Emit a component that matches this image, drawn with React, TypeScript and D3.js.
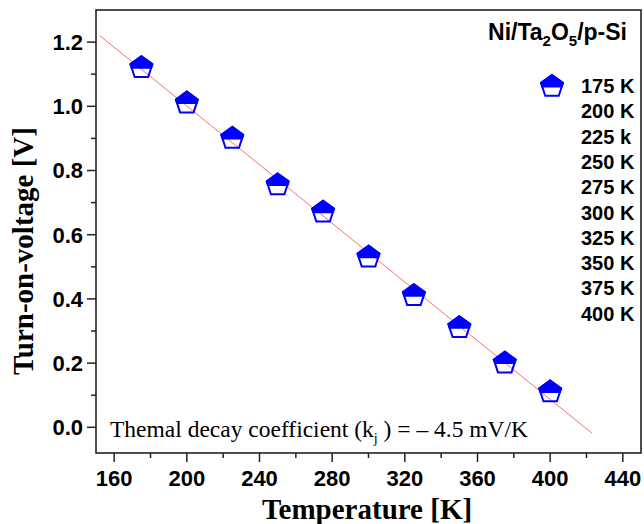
import React from "react";
import * as d3 from "d3";

// measured turn-on voltage vs temperature
const temperatures = [175, 200, 225, 250, 275, 300, 325, 350, 375, 400];
const turnOnVoltages = [1.12, 1.01, 0.9, 0.755, 0.67, 0.53, 0.41, 0.31, 0.2, 0.11];
const legendLabels = ["175 K", "200 K", "225 k", "250 K", "275 K", "300 K", "325 K", "350 K", "375 K", "400 K"];

// linear fit (V = a + b*T)
const fitRange = [152, 423];
const fitIntercept = 1.915;
const fitSlope = -0.00457;

const xTickValues = [160, 200, 240, 280, 320, 360, 400, 440];
const xMinorValues = [180, 220, 260, 300, 340, 380, 420];
const yTickValues = [0, 0.2, 0.4, 0.6, 0.8, 1.0, 1.2];
const yMinorValues = [0.1, 0.3, 0.5, 0.7, 0.9, 1.1];

const width = 644;
const height = 524;
const margin = { top: 10, right: 3, bottom: 71, left: 96 };

const sans = "'Liberation Sans', Arial, sans-serif";
const serif = "'Liberation Serif', 'Times New Roman', serif";
const blue = "#0000ff";

// pentagon marker, top half filled
const R = 11.5;
const ang = (d: number) => (d * Math.PI) / 180;
const pentPts = [-90, -18, 54, 126, 198].map((a) => [R * Math.cos(ang(a)), R * Math.sin(ang(a))]);
const pentPath = "M" + pentPts.map((p) => p.join(",")).join("L") + "Z";
const cut = R * 0.851;
const topHalf = `M0,${-R}L${pentPts[1].join(",")}L${cut},0L${-cut},0L${pentPts[4].join(",")}Z`;

const Marker = ({ x, y }: { x: number; y: number }) => (
  <g transform={`translate(${x},${y})`}>
    <path d={pentPath} fill="none" stroke={blue} strokeWidth={2} />
    <path d={topHalf} fill={blue} stroke={blue} strokeWidth={2} strokeLinejoin="miter" />
  </g>
);

export default function App() {
  const x = d3.scaleLinear().domain([150, 450]).range([margin.left, width - margin.right]);
  const y = d3.scaleLinear().domain([-0.08, 1.3]).range([height - margin.bottom, margin.top]);

  const line = d3
    .line<number>()
    .x((t) => x(t))
    .y((t) => y(fitIntercept + fitSlope * t));

  const x0 = margin.left;
  const y0 = height - margin.bottom;

  return (
    <svg
      width={width}
      height={height}
      style={{ position: "absolute", left: 0, top: 0, background: "#fff" }}
    >
      {/* fit line */}
      <path d={line(fitRange) || ""} fill="none" stroke="#ff6f6f" strokeWidth={1} />

      {temperatures.map((t, i) => (
        <Marker key={t} x={x(t)} y={y(turnOnVoltages[i])} />
      ))}

      {/* frame */}
      <rect
        x={x0}
        y={margin.top}
        width={width - margin.right - x0}
        height={y0 - margin.top}
        fill="none"
        stroke="#222"
        strokeWidth={1.6}
      />

      {/* x axis ticks */}
      {xTickValues.map((v) => (
        <g key={v}>
          <line x1={x(v)} x2={x(v)} y1={y0} y2={y0 + 9} stroke="#222" strokeWidth={1.5} />
          <text x={x(v)} y={486} textAnchor="middle" fontFamily={sans} fontWeight="bold" fontSize={22}>
            {v}
          </text>
        </g>
      ))}
      {xMinorValues.map((v) => (
        <line key={v} x1={x(v)} x2={x(v)} y1={y0} y2={y0 + 5} stroke="#222" strokeWidth={1.5} />
      ))}

      {/* y axis ticks */}
      {yTickValues.map((v) => (
        <g key={v}>
          <line x1={x0 - 9} x2={x0} y1={y(v)} y2={y(v)} stroke="#222" strokeWidth={1.5} />
          <text
            x={83}
            y={y(v)}
            dy="0.36em"
            textAnchor="end"
            fontFamily={sans}
            fontWeight="bold"
            fontSize={22}
          >
            {v.toFixed(1)}
          </text>
        </g>
      ))}
      {yMinorValues.map((v) => (
        <line key={v} x1={x0 - 5} x2={x0} y1={y(v)} y2={y(v)} stroke="#222" strokeWidth={1.5} />
      ))}

      {/* axis titles */}
      <text x={367} y={519} textAnchor="middle" fontFamily={serif} fontWeight="bold" fontSize={29}>
        Temperature [K]
      </text>
      <text
        transform="translate(33,251) rotate(-90)"
        textAnchor="middle"
        fontFamily={serif}
        fontWeight="bold"
        fontSize={29}
      >
        Turn-on-voltage [V]
      </text>

      {/* sample title */}
      <text x={627} y={40} textAnchor="end" fontFamily={sans} fontWeight="bold" fontSize={23}>
        Ni/Ta
        <tspan fontSize={15} dy={6}>2</tspan>
        <tspan dy={-6}>O</tspan>
        <tspan fontSize={15} dy={6}>5</tspan>
        <tspan dy={-6}>/p-Si</tspan>
      </text>

      {/* legend */}
      <Marker x={552} y={86.5} />
      {legendLabels.map((l, i) => (
        <text key={l} x={581} y={93 + i * 25.3} fontFamily={sans} fontWeight="bold" fontSize={20}>
          {l}
        </text>
      ))}

      {/* annotation */}
      <text x={110} y={437} fontFamily={serif} fontSize={23.5}>
        Themal decay coefficient (k
        <tspan fontSize={14} dy={6}>j</tspan>
        <tspan dy={-6}> ) = – 4.5 mV/K</tspan>
      </text>
    </svg>
  );
}
